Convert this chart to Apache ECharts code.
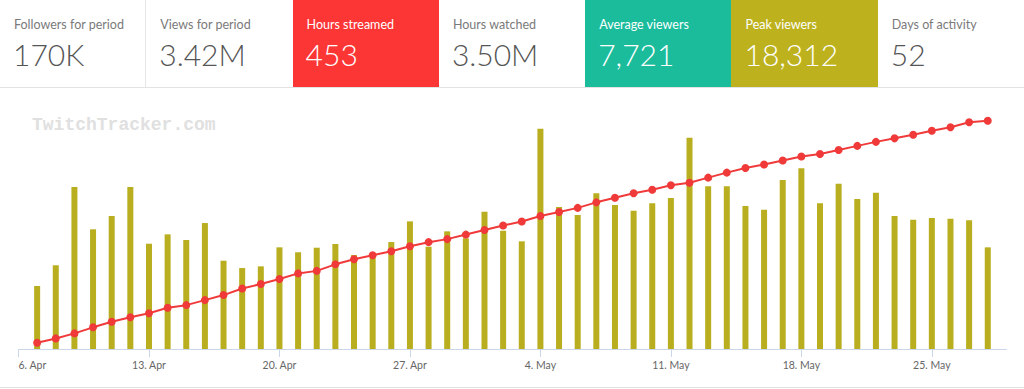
<!DOCTYPE html>
<html>
<head>
<meta charset="utf-8">
<script src="https://cdn.jsdelivr.net/npm/echarts@6/dist/echarts.min.js"></script>
<style>
  html, body { margin: 0; padding: 0; background: #fff; width: 1024px; height: 389px; overflow: hidden; font-family: Lato, "Open Sans", sans-serif; }
  #tiles { position: absolute; left: 0; top: 0; width: 1024px; height: 87px; display: flex; border-bottom: 1px solid #e3e3e3; }
  .tile { position: relative; width: 146.3px; height: 87px; box-sizing: border-box; flex: 0 0 146.3px; }
  .tile .lab { position: absolute; left: 14px; top: 16px; font-size: 12.5px; line-height: 18px; color: #7a7a7a; white-space: nowrap; }
  .tile .val { position: absolute; left: 13px; top: 35px; font-size: 30px; line-height: 38px; color: #555; font-weight: 300; white-space: nowrap; }
  .tile.col .lab, .tile.col .val { color: #fff; }
  #chart { position: absolute; left: 0; top: 88px; width: 1024px; height: 301px; }
  #bottomline { position: absolute; left: 0; top: 387px; width: 1024px; height: 1px; background: #e0e0e0; }
</style>
</head>
<body>
<div id="tiles"></div>
<div id="chart"></div>
<div id="bottomline"></div>
<script>
// ---- data ----
const tileLabels = ["Followers for period", "Views for period", "Hours streamed", "Hours watched", "Average viewers", "Peak viewers", "Days of activity"];
const tileValues = ["170K", "3.42M", "453", "3.50M", "7,721", "18,312", "52"];
const tileColors = [null, null, "#fc3535", null, "#1abc9c", "#bdb21e", null];

// axis categories: 6 Apr .. 29 May (first and last carry no data)
const categories = [
  "6. Apr","7. Apr","8. Apr","9. Apr","10. Apr","11. Apr","12. Apr","13. Apr","14. Apr","15. Apr",
  "16. Apr","17. Apr","18. Apr","19. Apr","20. Apr","21. Apr","22. Apr","23. Apr","24. Apr","25. Apr",
  "26. Apr","27. Apr","28. Apr","29. Apr","30. Apr","1. May","2. May","3. May","4. May","5. May",
  "6. May","7. May","8. May","9. May","10. May","11. May","12. May","13. May","14. May","15. May",
  "16. May","17. May","18. May","19. May","20. May","21. May","22. May","23. May","24. May","25. May",
  "26. May","27. May","28. May","29. May"
];
// daily peak viewers, 7 Apr .. 28 May
const peakViewers = [
  5240, 6960, 13470, 9950, 11060, 13470, 8750, 9530, 9060, 10470,
  7340, 6730, 6870, 8450, 8040, 8420, 8730, 7810, 7810, 8890,
  10610, 8500, 9780, 9200,
  11410, 9830, 8950, 18312, 11800, 11140, 12940, 11970, 11500, 12110,
  12550, 17560, 13520, 13520, 11890, 11580, 14050, 15020, 12110, 13740,
  12470, 12990, 11060, 10750, 10890, 10830, 10700, 8450
];
// cumulative hours streamed, 7 Apr .. 28 May
const cumulativeHours = [
  12.5, 21, 31, 43, 54, 63, 71, 82, 87, 97,
  107, 120, 129, 139, 150, 155, 168, 178, 186, 194,
  204, 212, 218, 227,
  236, 245, 253, 264, 272, 280, 291, 300, 309, 316,
  325, 330, 340, 350, 359, 366, 374, 382, 387, 395,
  403, 411, 418, 425, 433, 440, 450, 453
];

// ---- tiles ----
const tilesEl = document.getElementById("tiles");
tileLabels.forEach((l, i) => {
  const d = document.createElement("div");
  d.className = "tile" + (tileColors[i] ? " col" : "");
  if (tileColors[i]) d.style.background = tileColors[i];
  if (i === 0) d.style.borderRight = "1px solid #e6e6e6";
  d.innerHTML = '<div class="lab"></div><div class="val"></div>';
  d.querySelector(".lab").textContent = l;
  d.querySelector(".val").textContent = tileValues[i];
  tilesEl.appendChild(d);
});

// ---- chart ----
const barData = [null].concat(peakViewers, [null]);
const lineData = [null].concat(cumulativeHours, [null]);

const chart = echarts.init(document.getElementById("chart"), null, { renderer: "svg" });
chart.setOption({
  animation: false,
  grid: { left: 18.5, right: 17.6, top: 20.4, bottom: 40 },
  graphic: [{
    type: "text", left: 32, top: 28,
    style: { text: "TwitchTracker.com", font: "bold 18px 'Liberation Mono', 'DejaVu Sans Mono', monospace", fill: "#e0e0e0" }
  }],
  xAxis: {
    type: "category",
    data: categories,
    boundaryGap: false,
    axisLine: { lineStyle: { color: "#ccd6eb", width: 1 } },
    axisTick: { show: true, length: 8, lineStyle: { color: "#ccd6eb" }, interval: (i) => i % 7 === 0 },
    axisLabel: {
      interval: (i) => i % 7 === 0,
      color: "#666", fontSize: 10.5, fontFamily: "Lato", margin: 10,
      alignMinLabel: "left"
    },
    splitLine: { show: false }
  },
  yAxis: [
    { type: "value", min: 0, max: 20000, show: false, splitLine: { show: false } },
    { type: "value", min: 0, max: 477.4, show: false, splitLine: { show: false } }
  ],
  series: [
    {
      type: "bar", data: barData, yAxisIndex: 0, barWidth: 6,
      itemStyle: { color: "#b9ae1f" }
    },
    {
      type: "line", data: lineData, yAxisIndex: 1,
      symbol: "circle", symbolSize: 8, showSymbol: true,
      lineStyle: { color: "#f03a3a", width: 2 },
      itemStyle: { color: "#f03a3a" }, z: 5
    }
  ]
});
</script>
</body>
</html>
